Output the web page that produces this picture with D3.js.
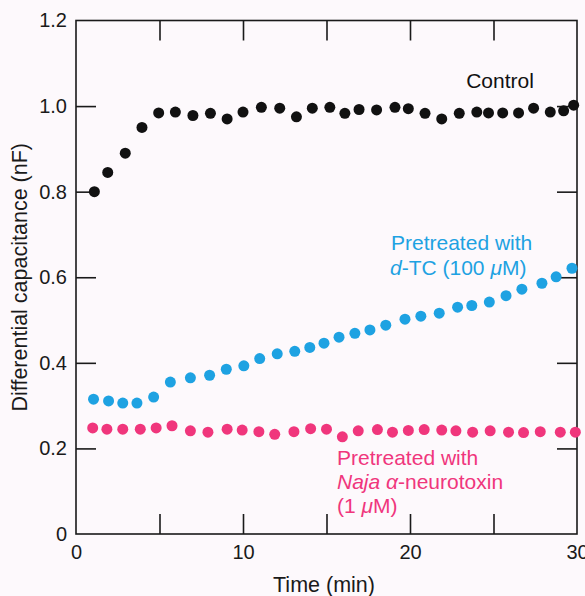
<!DOCTYPE html>
<html>
<head>
<meta charset="utf-8">
<script src="https://cdn.jsdelivr.net/npm/d3@7"></script>
<style>
  body { margin: 0; background: #fdf9fc; }
  svg { display: block; font-family: "Liberation Sans", Arial, sans-serif; }
  .axis text { font-size: 20px; fill: #1a1a1a; }
  .axis line { stroke: #1a1a1a; stroke-width: 1.6; }
  .axis path { display: none; }
</style>
</head>
<body>
<svg id="chart" width="585" height="596"></svg>
<script>
// Control series
let controlTime = [1.1, 1.9, 2.95, 3.95, 4.95, 5.95, 7.0, 8.05, 9.05, 10.0, 11.1, 12.2, 13.2, 14.15, 15.2, 16.1,
    16.95, 18.0, 19.1, 19.9, 20.9, 21.9, 22.95, 24.0, 24.7, 25.55, 26.5, 27.4, 28.4, 29.2, 29.8]
let controlValue = [0.80, 0.845, 0.89, 0.95, 0.984, 0.986, 0.978, 0.983, 0.97, 0.986, 0.997, 0.995, 0.975, 0.995, 0.997, 0.983,
    0.992, 0.991, 0.997, 0.994, 0.983, 0.97, 0.983, 0.986, 0.984, 0.984, 0.984, 0.995, 0.986, 0.989, 1.002]

// pretreated with d-TC
let dtcTime = [1.05, 1.95, 2.8, 3.65, 4.65, 5.65, 6.85, 8.0, 9.0, 10.05, 11.0, 12.05, 13.1, 14.0, 14.85, 15.75,
    16.7, 17.6, 18.55, 19.7, 20.65, 21.75, 22.85, 23.7, 24.75, 25.75, 26.7, 27.9, 28.75, 29.7]
let dtcValue = [0.315, 0.311, 0.306, 0.306, 0.32, 0.355, 0.365, 0.371, 0.385, 0.393, 0.41, 0.421, 0.427, 0.436, 0.446, 0.46,
    0.469, 0.477, 0.488, 0.502, 0.509, 0.516, 0.53, 0.534, 0.542, 0.557, 0.572, 0.586, 0.601, 0.621]

// pretreated with Naja neurotoxin
let najaTime = [1.0, 1.85, 2.8, 3.85, 4.8, 5.75, 6.85, 7.9, 9.05, 9.95, 10.95, 11.9, 13.05, 14.05, 15.0, 15.95,
    16.9, 18.05, 18.95, 19.9, 20.85, 21.9, 22.75, 23.75, 24.8, 25.9, 26.8, 27.8, 29.0, 29.9]
let najaValue = [0.248, 0.245, 0.245, 0.245, 0.248, 0.253, 0.241, 0.238, 0.245, 0.243, 0.239, 0.233, 0.239, 0.246, 0.245, 0.227,
    0.241, 0.244, 0.238, 0.242, 0.244, 0.243, 0.241, 0.238, 0.241, 0.238, 0.237, 0.239, 0.238, 0.238]

let xLabels = [0, 10, 20, 30]
let xMinor = [5, 10, 15, 20, 25]
let yLabels = [0, 0.2, 0.4, 0.6, 0.8, 1.0, 1.2]
let yMinor = [0.2, 0.4, 0.6, 0.8, 1.0]

function main() {
    let svg = d3.select('#chart'),
        margin = {top: 20.5, bottom: 62, left: 76, right: 8},
        width = svg.attr('width') - margin.left - margin.right,
        height = svg.attr('height') - margin.top - margin.bottom

    let xScale = d3.scaleLinear().domain([0, 30]).range([margin.left, margin.left + width]),
        yScale = d3.scaleLinear().domain([0, 1.2]).range([margin.top + height, margin.top])

    let tickLen = 20

    // frame
    svg.append('rect')
        .attr('x', margin.left)
        .attr('y', margin.top)
        .attr('width', width)
        .attr('height', height)
        .attr('fill', 'none')
        .attr('stroke', '#1a1a1a')
        .attr('stroke-width', 1.6)

    // inward ticks on all sides
    svg.append('g').attr('class', 'axis')
        .attr('transform', 'translate(0,' + (margin.top + height) + ')')
        .call(d3.axisBottom(xScale).tickValues(xMinor).tickSize(-tickLen).tickFormat(''))
    svg.append('g').attr('class', 'axis')
        .attr('transform', 'translate(0,' + margin.top + ')')
        .call(d3.axisTop(xScale).tickValues(xMinor).tickSize(-tickLen).tickFormat(''))
    svg.append('g').attr('class', 'axis')
        .attr('transform', 'translate(' + margin.left + ',0)')
        .call(d3.axisLeft(yScale).tickValues(yMinor).tickSize(-tickLen).tickFormat(''))
    svg.append('g').attr('class', 'axis')
        .attr('transform', 'translate(' + (margin.left + width) + ',0)')
        .call(d3.axisRight(yScale).tickValues(yMinor).tickSize(-tickLen).tickFormat(''))

    // tick labels
    svg.append('g').attr('class', 'axis')
        .attr('transform', 'translate(0,' + (margin.top + height) + ')')
        .call(d3.axisBottom(xScale).tickValues(xLabels).tickSize(0).tickPadding(11))
    svg.append('g').attr('class', 'axis')
        .attr('transform', 'translate(' + margin.left + ',0)')
        .call(d3.axisLeft(yScale).tickValues(yLabels).tickSize(0).tickPadding(9)
            .tickFormat(d => d === 0 ? '0' : d.toFixed(1)))

    // axis titles
    svg.append('text')
        .attr('x', 324)
        .attr('y', 592)
        .attr('text-anchor', 'middle')
        .attr('font-size', 21.5)
        .attr('fill', '#1a1a1a')
        .text('Time (min)')

    svg.append('text')
        .attr('transform', 'translate(27,' + (margin.top + height / 2) + ') rotate(-90)')
        .attr('text-anchor', 'middle')
        .attr('font-size', 21.5)
        .attr('fill', '#1a1a1a')
        .text('Differential capacitance (nF)')

    // data points
    let series = [
        {time: najaTime, value: najaValue, color: '#f0367c'},
        {time: dtcTime, value: dtcValue, color: '#1ea2e2'},
        {time: controlTime, value: controlValue, color: '#111111'}
    ]
    series.forEach(s => {
        svg.append('g')
            .selectAll('circle')
            .data(s.time.map((t, i) => ({t: t, v: s.value[i]})))
            .enter()
            .append('circle')
            .attr('cx', d => xScale(d.t))
            .attr('cy', d => yScale(d.v))
            .attr('r', 5.5)
            .attr('fill', s.color)
    })

    // labels
    svg.append('text')
        .attr('x', 500).attr('y', 88)
        .attr('text-anchor', 'middle')
        .attr('font-size', 21)
        .attr('fill', '#111')
        .text('Control')

    let dtcLabel = svg.append('text')
        .attr('font-size', 21)
        .attr('fill', '#1ea2e2')
    dtcLabel.append('tspan').attr('x', 391).attr('y', 250).text('Pretreated with')
    let l2 = dtcLabel.append('tspan').attr('x', 390).attr('y', 275)
    l2.append('tspan').attr('font-style', 'italic').text('d')
    l2.append('tspan').text('-TC (100 ')
    l2.append('tspan').attr('font-style', 'italic').text('\u03bc')
    l2.append('tspan').text('M)')

    let najaLabel = svg.append('text')
        .attr('font-size', 21)
        .attr('fill', '#f0367c')
    najaLabel.append('tspan').attr('x', 337).attr('y', 465).text('Pretreated with')
    let n2 = najaLabel.append('tspan').attr('x', 337).attr('y', 489)
    n2.append('tspan').attr('font-style', 'italic').text('Naja \u03b1')
    n2.append('tspan').text('-neurotoxin')
    let n3 = najaLabel.append('tspan').attr('x', 337).attr('y', 513)
    n3.append('tspan').text('(1 ')
    n3.append('tspan').attr('font-style', 'italic').text('\u03bc')
    n3.append('tspan').text('M)')
}

main()
</script>
</body>
</html>
